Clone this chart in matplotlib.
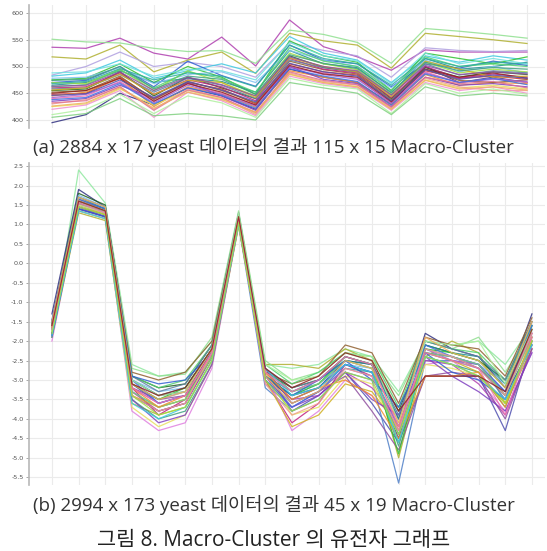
import matplotlib
matplotlib.use("Agg")
import matplotlib.pyplot as plt
import numpy as np

plt.rcParams['font.family'] = ['Open Sans', 'Noto Sans CJK KR', 'DejaVu Sans']

# ---------------- data: top panel (15 conditions) ----------------
top_lines = [
    [536,534,553,525,514,555,501,587,537,518,493,531,527,527,527],
    [551,546,544,534,528,530,506,568,560,545,506,571,566,560,553],
    [518,514,540,490,512,527,487,562,548,540,497,562,556,550,543],
    [484,500,527,500,508,500,480,545,530,520,480,535,530,528,530],
    [482,488,512,478,492,505,488,556,525,512,470,520,508,520,512],
    [470,474,500,462,510,483,463,540,512,505,462,505,497,510,502],
    [475,478,505,470,500,480,448,548,520,508,455,525,515,505,518],
    [465,470,492,470,478,472,452,530,505,498,450,515,495,500,508],
    [395,410,450,428,460,445,420,495,480,470,430,500,470,480,470],
    [455,458,490,445,480,460,440,520,498,490,440,498,480,490,485],
    [448,450,480,440,470,458,430,505,490,484,435,492,478,482,476],
    [440,445,472,435,468,450,428,498,488,478,430,490,470,478,470],
    [445,452,478,425,462,448,424,492,480,470,428,485,465,470,468],
    [435,440,465,440,470,445,418,500,476,468,425,480,465,468,462],
    [425,430,458,428,455,440,412,485,470,462,420,475,460,465,458],
    [452,455,482,438,472,455,432,510,494,486,438,495,474,470,475],
    [478,480,498,468,485,490,470,530,512,500,460,512,490,500,488],
    [460,462,488,448,475,462,436,515,495,488,442,500,478,486,480],
    [470,468,495,455,492,470,445,525,505,494,448,508,488,495,490],
    [430,438,462,420,458,442,410,488,472,465,422,478,462,455,455],
    [458,460,485,452,478,465,440,512,498,490,446,505,484,492,488],
    [462,466,494,460,490,478,452,535,510,500,455,518,500,505,500],
    [442,448,470,432,465,448,426,500,485,476,432,488,470,476,472],
    [468,472,496,475,488,482,462,540,515,505,465,515,500,508,505],
    [420,428,455,405,452,436,408,482,468,460,418,470,455,462,450],
    [450,455,478,435,468,452,428,502,486,480,434,495,480,488,478],
    [410,420,448,412,445,432,405,478,465,458,412,468,450,458,448],
    [438,442,468,430,460,446,422,496,482,472,428,486,470,478,466],
    [456,460,486,448,474,470,442,516,500,490,444,510,495,480,482],
    [474,476,500,458,482,476,448,522,506,496,452,508,492,498,495],
    [432,436,462,418,456,442,414,490,474,466,424,480,468,472,460],
    [446,449,475,442,472,456,434,506,490,482,436,494,476,484,478],
    [488,490,505,482,495,492,475,545,520,510,468,525,505,515,505],
    [426,432,460,422,452,438,415,486,470,462,420,474,458,462,456],
    [405,412,440,408,412,408,400,470,460,450,410,462,445,450,445],
    [463,465,490,455,480,466,445,518,500,492,447,502,485,490,486],
]
top_yticks = [400, 450, 500, 550, 600]

# ---------------- data: bottom panel (19 conditions) ----------------
bot_lines = [
    [-1.9,2.4,1.55,-2.6,-2.9,-2.8,-2.0,1.3,-2.6,-2.7,-2.6,-2.2,-2.4,-3.3,-2.0,-2.1,-2.0,-2.6,-1.6],
    [-1.3,1.9,1.45,-3.0,-3.4,-3.3,-2.3,1.1,-2.9,-3.5,-3.2,-2.5,-2.6,-4.0,-1.8,-2.2,-2.4,-3.2,-1.3],
    [-1.6,1.55,1.3,-3.2,-3.9,-3.5,-2.2,1.2,-3.0,-4.1,-3.6,-2.6,-2.9,-4.3,-2.2,-2.4,-2.6,-3.4,-1.8],
    [-2.0,1.4,1.2,-3.8,-4.3,-4.1,-2.7,1.0,-2.8,-4.3,-3.8,-3.0,-3.4,-4.1,-2.6,-2.5,-3.0,-3.8,-2.3],
    [-1.8,1.35,1.15,-3.1,-3.6,-3.4,-2.4,1.05,-2.7,-3.8,-3.4,-2.8,-3.6,-4.6,-2.9,-2.9,-2.9,-4.3,-2.0],
    [-1.9,1.3,1.1,-3.6,-3.9,-3.7,-2.5,0.95,-2.6,-2.6,-2.7,-2.2,-2.5,-5.0,-2.4,-2.0,-2.3,-3.6,-2.2],
    [-1.5,1.8,1.5,-2.9,-3.2,-3.1,-2.1,1.25,-2.8,-3.2,-3.0,-2.4,-2.6,-3.8,-2.1,-2.3,-2.5,-3.0,-1.5],
    [-1.6,1.75,1.45,-3.0,-3.3,-3.2,-2.2,1.15,-2.9,-3.4,-3.1,-2.6,-2.7,-3.9,-2.2,-2.4,-2.6,-3.1,-1.7],
    [-1.7,1.5,1.35,-3.3,-3.7,-3.5,-2.3,1.2,-3.0,-3.6,-3.3,-2.7,-2.8,-4.2,-2.3,-2.5,-2.7,-3.3,-1.9],
    [-1.45,1.6,1.4,-3.1,-3.5,-3.3,-2.2,1.0,-3.2,-3.8,-3.5,-2.8,-3.0,-5.65,-2.5,-2.5,-2.6,-3.5,-1.6],
    [-1.75,1.45,1.25,-2.7,-2.9,-2.85,-1.9,1.35,-2.5,-3.0,-2.8,-2.3,-2.5,-3.4,-2.0,-2.2,-1.9,-2.8,-1.7],
    [-1.85,1.4,1.2,-3.4,-3.8,-3.6,-2.4,1.1,-2.9,-3.4,-3.2,-2.6,-2.8,-4.5,-2.3,-2.4,-2.7,-3.4,-2.1],
    [-1.55,1.65,1.4,-2.8,-3.0,-2.8,-2.0,1.2,-2.8,-3.1,-2.9,-2.1,-2.3,-3.6,-1.9,-2.1,-2.2,-2.9,-1.4],
    [-1.65,1.55,1.3,-3.2,-3.6,-3.4,-2.3,1.15,-3.1,-3.7,-3.3,-2.7,-2.9,-4.2,-2.2,-2.5,-2.6,-3.3,-1.8],
    [-1.8,1.45,1.25,-3.5,-4.0,-3.8,-2.6,1.05,-2.7,-3.3,-3.1,-2.5,-2.7,-4.7,-2.4,-2.6,-2.8,-3.7,-2.0],
    [-1.7,1.5,1.3,-3.3,-3.8,-3.6,-2.4,1.0,-2.8,-3.5,-3.4,-2.8,-3.2,-4.0,-2.5,-2.6,-3.1,-3.9,-2.2],
    [-1.6,1.7,1.4,-3.0,-3.4,-3.2,-2.2,1.2,-2.9,-3.3,-3.0,-2.5,-2.6,-4.0,-2.1,-2.3,-2.4,-3.1,-1.6],
    [-1.9,1.35,1.15,-3.7,-4.2,-3.9,-2.6,0.95,-2.8,-3.9,-3.7,-2.9,-3.1,-4.4,-2.6,-2.7,-2.9,-3.6,-2.1],
    [-1.7,1.6,1.35,-2.9,-3.2,-3.0,-2.1,1.25,-2.6,-3.1,-2.8,-2.3,-2.4,-3.7,-2.0,-2.2,-2.3,-3.0,-1.6],
    [-1.75,1.5,1.3,-3.4,-3.7,-3.5,-2.4,1.1,-3.0,-4.2,-3.9,-3.1,-3.3,-4.2,-2.3,-2.5,-2.8,-3.6,-2.0],
    [-1.8,1.45,1.2,-3.2,-3.5,-3.4,-2.3,1.05,-2.7,-3.6,-3.3,-2.9,-3.8,-4.8,-2.9,-2.8,-2.9,-4.0,-2.2],
    [-1.6,1.6,1.35,-3.1,-3.5,-3.2,-2.2,1.15,-2.9,-3.4,-3.1,-2.4,-2.6,-4.9,-2.2,-2.3,-2.5,-3.2,-1.7],
    [-1.85,1.4,1.2,-3.5,-4.1,-3.9,-2.6,1.0,-2.9,-3.7,-3.4,-2.8,-3.5,-3.9,-2.4,-2.9,-3.3,-3.8,-2.3],
    [-1.55,1.7,1.45,-2.9,-3.3,-3.1,-2.1,1.3,-2.7,-3.2,-3.0,-2.4,-2.6,-3.9,-2.0,-2.2,-2.4,-3.0,-1.5],
    [-1.5,1.65,1.4,-3.0,-3.6,-3.4,-2.3,1.1,-3.0,-3.7,-3.3,-2.6,-2.8,-4.4,-2.1,-2.4,-2.6,-3.3,-1.6],
    [-1.7,1.55,1.3,-3.3,-3.7,-3.5,-2.4,1.2,-2.8,-3.3,-3.1,-2.5,-2.7,-4.6,-2.3,-2.4,-2.6,-3.4,-1.9],
    [-1.9,1.4,1.2,-2.9,-3.1,-3.0,-2.3,1.1,-2.9,-3.4,-3.0,-2.5,-3.0,-3.7,-2.3,-2.8,-3.0,-3.5,-2.1],
    [-1.65,1.5,1.25,-3.2,-3.7,-3.4,-2.3,1.1,-2.8,-3.5,-3.2,-3.0,-3.4,-4.5,-2.9,-2.9,-2.8,-3.7,-1.9],
    [-1.6,1.6,1.35,-3.4,-3.8,-3.6,-2.3,1.2,-3.1,-3.9,-3.6,-2.7,-2.9,-4.3,-2.2,-2.4,-2.7,-3.4,-1.8],
    [-1.75,1.5,1.3,-3.0,-3.4,-3.3,-2.2,1.3,-2.6,-3.0,-2.9,-2.3,-2.4,-4.1,-2.0,-2.1,-2.0,-3.1,-1.7],
    [-1.5,1.7,1.45,-3.1,-3.5,-3.3,-2.2,1.0,-2.9,-3.6,-3.3,-2.5,-2.7,-4.1,-1.9,-2.3,-2.5,-3.2,-1.5],
    [-1.85,1.35,1.15,-3.6,-4.0,-3.7,-2.5,1.0,-2.7,-3.4,-3.2,-2.6,-2.8,-4.6,-2.4,-2.6,-2.9,-3.5,-2.1],
    [-1.7,1.55,1.3,-3.2,-3.6,-3.4,-2.3,1.15,-2.8,-3.3,-3.0,-2.4,-2.6,-4.2,-2.3,-2.5,-2.7,-3.9,-1.9],
    [-1.8,1.45,1.25,-3.4,-3.9,-3.7,-2.5,1.05,-3.0,-3.8,-3.5,-2.8,-3.0,-4.4,-2.4,-2.6,-2.9,-3.6,-2.0],
    [-1.6,1.6,1.35,-3.1,-3.4,-3.2,-2.2,1.2,-2.7,-3.2,-2.9,-2.3,-2.5,-3.8,-2.9,-2.9,-2.9,-3.3,-1.7],
]
bot_yticks = [-5.5, -5.0, -4.5, -4.0, -3.5, -3.0, -2.5, -2.0, -1.5, -1.0,
              -0.5, 0.0, 0.5, 1.0, 1.5, 2.0, 2.5]

palette = ['#b040b0', '#90e090', '#b0b030', '#b0a0e0', '#40c8e0', '#3060d0',
           '#30c030', '#209090', '#303080', '#206020', '#d03030', '#f070b0',
           '#f09030', '#8040c0', '#e8e060', '#906030', '#80c0f0', '#c02080',
           '#a0e040', '#f0a090', '#6080a0', '#50d070', '#a060d0', '#30b0a0',
           '#f090d0', '#902020', '#b0f0a0', '#4070e0', '#d0b020', '#40a080',
           '#e07090', '#5050b0', '#70e0e0', '#f0b060', '#80d080', '#9050a0']

bot_colors = [palette[(i * 7 + 3) % len(palette)] for i in range(len(bot_lines))]
bot_colors[0] = '#90e8a0'   # light green outlier
bot_colors[1] = '#303080'   # navy
bot_colors[9] = '#5080c8'   # deepest blue dip
bot_colors[3] = '#e080e0'   # light pink-violet low line

caption_a = "(a) 2884 x 17 yeast 데이터의 결과 115 x 15 Macro-Cluster"
caption_b = "(b) 2994 x 173 yeast 데이터의 결과 45 x 19 Macro-Cluster"
fig_title = "그림 8. Macro-Cluster 의 유전자 그래프"

W, H = 547, 551
fig = plt.figure(figsize=(W/100, H/100), dpi=100)
fig.patch.set_facecolor('white')

def style(ax, ncols, yticks, fmt):
    ax.set_facecolor('white')
    for s in ['top', 'right', 'bottom']:
        ax.spines[s].set_visible(False)
    ax.spines['left'].set_color('#b8b8b8')
    ax.spines['left'].set_linewidth(1.2)
    ax.set_xticks(np.arange(ncols))
    ax.set_xticklabels([])
    ax.tick_params(axis='x', length=0)
    ax.set_yticks(yticks)
    ax.set_yticklabels([fmt(v) for v in yticks], fontsize=4.6, color='#555555',
                       family='DejaVu Sans')
    ax.tick_params(axis='y', length=2, width=0.6, color='#999999', pad=2)
    ax.grid(True, color='#ebebeb', linewidth=0.8)
    ax.set_axisbelow(True)

# top panel
ax1 = fig.add_axes([29/W, 1-128/H, (545-29)/W, 123/H])
x1 = np.arange(len(top_lines[0]))
for i, ln in enumerate(top_lines):
    ax1.plot(x1, ln, color=palette[i % len(palette)], lw=0.9, alpha=0.85)
ax1.set_xlim(-0.68, 14.53)
ax1.set_ylim(385, 615)
style(ax1, len(x1), top_yticks, lambda v: f"{v:d}")

# bottom panel
ax2 = fig.add_axes([29/W, 1-485/H, (545-29)/W, 322/H])
x2 = np.arange(len(bot_lines[0]))
for i, ln in enumerate(bot_lines):
    ax2.plot(x2, ln, color=bot_colors[i], lw=0.9, alpha=0.85)
ax2.set_xlim(-0.86, 18.49)
ax2.set_ylim(-5.7, 2.58)
style(ax2, len(x2), bot_yticks, lambda v: f"{v:.1f}")

fig.text(0.5, 1-147/H, caption_a, ha='center', va='center', fontsize=13.5, color='#333333')
fig.text(0.5, 1-505/H, caption_b, ha='center', va='center', fontsize=13.5, color='#333333')
fig.text(0.5, 1-540/H, fig_title, ha='center', va='center', fontsize=15, color='#222222')

fig.savefig('out.png', dpi=100, facecolor='white')
